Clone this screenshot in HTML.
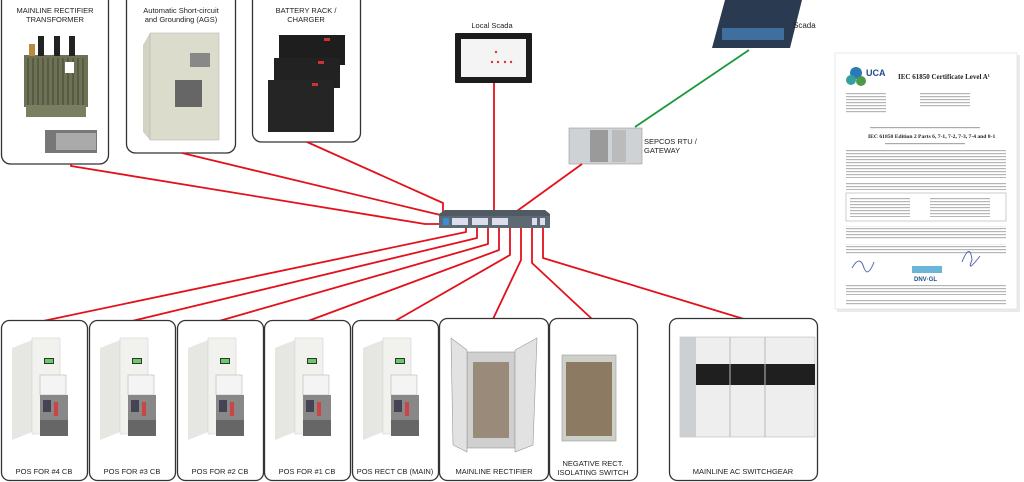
<!DOCTYPE html>
<html><head><meta charset="utf-8"><style>
html,body{margin:0;padding:0;background:#fff;}
svg{display:block;font-family:"Liberation Sans",sans-serif;}
</style></head><body>
<svg width="1024" height="482" viewBox="0 0 1024 482" xmlns="http://www.w3.org/2000/svg">
<defs>
<g id="pos">
  <polygon points="12,28 32,20 32,112 12,120" fill="#e6e6e2"/>
  <rect x="32" y="18" width="28" height="96" fill="#f1f1ee" stroke="#ccc" stroke-width="0.5"/>
  <rect x="44" y="38" width="10" height="6" fill="#333"/><rect x="45" y="39" width="8" height="4" fill="#6c6"/>
  <rect x="40" y="55" width="26" height="20" fill="#f4f4f4" stroke="#aaa" stroke-width="0.5"/>
  <rect x="40" y="75" width="28" height="30" fill="#888"/>
  <rect x="43" y="80" width="8" height="12" fill="#445"/><rect x="54" y="82" width="4" height="14" fill="#c44"/>
  <rect x="40" y="100" width="28" height="16" fill="#666"/>
</g>
<pattern id="txt" width="160" height="3" patternUnits="userSpaceOnUse">
  <rect x="0" y="0" width="160" height="1.2" fill="#b5b5b5"/>
</pattern>
</defs>

<!-- Top boxes -->
<rect x="1.5" y="-8" width="107" height="172" rx="9" fill="#fff" stroke="#333" stroke-width="1.3"/>
<rect x="126.5" y="-8" width="109" height="161" rx="9" fill="#fff" stroke="#333" stroke-width="1.3"/>
<rect x="252.5" y="-8" width="108" height="150" rx="9" fill="#fff" stroke="#333" stroke-width="1.3"/>
<g font-size="7.5" fill="#222" text-anchor="middle">
<text x="55" y="13">MAINLINE RECTIFIER</text><text x="55" y="22">TRANSFORMER</text>
<text x="181" y="13">Automatic Short-circuit</text><text x="181" y="22">and Grounding (AGS)</text>
<text x="306" y="13">BATTERY RACK /</text><text x="306" y="22">CHARGER</text>
<text x="492" y="28">Local Scada</text>
</g>
<!-- transformer -->
<rect x="24" y="55" width="64" height="52" fill="#6d7255"/>
<g stroke="#4a4e38" stroke-width="1.2"><line x1="28" y1="58" x2="28" y2="105"/><line x1="33" y1="58" x2="33" y2="105"/><line x1="38" y1="58" x2="38" y2="105"/><line x1="43" y1="58" x2="43" y2="105"/><line x1="48" y1="58" x2="48" y2="105"/><line x1="53" y1="58" x2="53" y2="105"/><line x1="58" y1="58" x2="58" y2="105"/><line x1="63" y1="58" x2="63" y2="105"/><line x1="68" y1="58" x2="68" y2="105"/><line x1="73" y1="58" x2="73" y2="105"/><line x1="78" y1="58" x2="78" y2="105"/><line x1="83" y1="58" x2="83" y2="105"/></g>
<rect x="26" y="105" width="60" height="12" fill="#7a7f62"/>
<rect x="38" y="36" width="6" height="20" fill="#222"/><rect x="54" y="36" width="6" height="20" fill="#222"/><rect x="69" y="36" width="6" height="20" fill="#222"/>
<rect x="29" y="44" width="6" height="12" fill="#b84"/><rect x="65" y="62" width="9" height="11" fill="#fff"/>
<rect x="45" y="130" width="52" height="23" fill="#777"/><rect x="56" y="133" width="40" height="17" fill="#aaa"/>
<!-- AGS -->
<polygon points="143,45 150,33 219,33 219,140 150,140 143,132" fill="#d3d3c4"/>
<rect x="150" y="33" width="69" height="107" fill="#dcdccd" stroke="#aaa" stroke-width="0.5"/>
<rect x="190" y="53" width="20" height="14" fill="#888"/><rect x="175" y="80" width="27" height="27" fill="#666"/>
<!-- batteries -->
<rect x="279" y="35" width="66" height="30" fill="#1e1e1e"/>
<rect x="274" y="58" width="66" height="30" fill="#222"/>
<rect x="268" y="80" width="66" height="52" fill="#252525"/>
<rect x="324" y="38" width="6" height="3" fill="#c33"/><rect x="318" y="61" width="6" height="3" fill="#c33"/><rect x="312" y="83" width="6" height="3" fill="#c33"/>
<!-- local scada -->
<rect x="455" y="33" width="77" height="50" fill="#1c1c1c" rx="1"/>
<rect x="461" y="39" width="65" height="38" fill="#f4f4f4"/>
<g fill="#d33"><circle cx="492" cy="62" r="1.2"/><circle cx="498" cy="62" r="1.2"/><circle cx="505" cy="62" r="1.2"/><circle cx="511" cy="62" r="1.2"/><circle cx="496" cy="52" r="1.2"/></g>
<!-- scada image -->
<polygon points="725,0 802,0 790,48 712,48" fill="#2a3a50"/>
<rect x="722" y="28" width="62" height="12" fill="#3f6f9f"/>
<text x="793" y="28" font-size="8" fill="#222">Scada</text>
<!-- SEPCOS -->
<rect x="569" y="128" width="73" height="36" fill="#cfd2d4" stroke="#999" stroke-width="0.6"/>
<rect x="590" y="130" width="18" height="32" fill="#9a9a9a"/><rect x="612" y="130" width="14" height="32" fill="#bbb"/>
<text x="644" y="144" font-size="7.5" fill="#222">SEPCOS RTU /</text>
<text x="644" y="153" font-size="7.5" fill="#222">GATEWAY</text>

<!-- connectors -->
<g stroke="#e3111b" stroke-width="1.8" fill="none" stroke-linejoin="round">
<polyline points="71,164 71,166 425,224 445,224"/>
<polyline points="182,153 432,213 445,216"/>
<polyline points="307,142 443,203 443,214"/>
<line x1="494" y1="83" x2="494" y2="213"/>
<line x1="582" y1="164" x2="517" y2="211"/>
<polyline points="466,228 466,232 43,321"/>
<polyline points="477,228 477,238 132,321"/>
<polyline points="488,228 488,244 219,321"/>
<polyline points="499,228 499,250 308,321"/>
<polyline points="510,228 510,255 395,321"/>
<polyline points="521,228 521,260 493,319"/>
<polyline points="532,228 532,263 592,319"/>
<polyline points="543,228 543,258 744,319"/>
</g>
<line x1="635" y1="127" x2="749" y2="50" stroke="#1a9a3a" stroke-width="1.8"/>
<!-- switch -->
<polygon points="445,210 545,210 550,214 550,228 439,228 439,214" fill="#4f5a63"/>
<rect x="439" y="216" width="111" height="12" fill="#5d6a73"/>
<rect x="443" y="218" width="6" height="7" fill="#3a8ed6"/>
<g fill="#dde"><rect x="452" y="218" width="16" height="7"/><rect x="472" y="218" width="16" height="7"/><rect x="492" y="218" width="16" height="7"/><rect x="532" y="218" width="5" height="7"/><rect x="540" y="218" width="5" height="7"/></g>

<!-- bottom boxes -->
<g fill="#fff" stroke="#333" stroke-width="1.3">
<rect x="1.5" y="320.5" width="86" height="160" rx="8"/>
<rect x="89.5" y="320.5" width="86" height="160" rx="8"/>
<rect x="177.5" y="320.5" width="86" height="160" rx="8"/>
<rect x="264.5" y="320.5" width="86" height="160" rx="8"/>
<rect x="352.5" y="320.5" width="86" height="160" rx="8"/>
<rect x="439.5" y="318.5" width="109" height="162" rx="8"/>
<rect x="549.5" y="318.5" width="88" height="162" rx="8"/>
<rect x="669.5" y="318.5" width="148" height="162" rx="8"/>
</g>
<use href="#pos" x="0" y="320"/>
<use href="#pos" x="88" y="320"/>
<use href="#pos" x="176" y="320"/>
<use href="#pos" x="263" y="320"/>
<use href="#pos" x="351" y="320"/>
<!-- mainline rectifier -->
<rect x="467" y="352" width="48" height="96" fill="#cfcfcf" stroke="#999" stroke-width="0.6"/>
<rect x="473" y="362" width="36" height="76" fill="#9a8a7a"/>
<polygon points="451,338 467,350 467,452 453,445" fill="#e2e2e2" stroke="#999" stroke-width="0.6"/>
<polygon points="537,338 515,350 515,452 533,445" fill="#e2e2e2" stroke="#999" stroke-width="0.6"/>
<!-- negative switch -->
<rect x="562" y="355" width="54" height="86" fill="#cdd0c8" stroke="#999" stroke-width="0.6"/>
<rect x="566" y="362" width="46" height="74" fill="#8d7a62"/>
<!-- AC switchgear -->
<rect x="680" y="337" width="135" height="100" fill="#eeeeee" stroke="#bbb" stroke-width="0.6"/>
<rect x="680" y="337" width="16" height="100" fill="#cdd0d3"/>
<rect x="696" y="364" width="119" height="21" fill="#1f1f1f"/>
<line x1="730" y1="337" x2="730" y2="437" stroke="#bbb"/><line x1="765" y1="337" x2="765" y2="437" stroke="#bbb"/>

<g font-size="7.5" fill="#222" text-anchor="middle">
<text x="44" y="474">POS FOR #4 CB</text>
<text x="132" y="474">POS FOR #3 CB</text>
<text x="220" y="474">POS FOR #2 CB</text>
<text x="307" y="474">POS FOR #1 CB</text>
<text x="395" y="474">POS RECT CB (MAIN)</text>
<text x="494" y="474">MAINLINE RECTIFIER</text>
<text x="593" y="466">NEGATIVE RECT.</text>
<text x="593" y="475">ISOLATING SWITCH</text>
<text x="743" y="474">MAINLINE AC SWITCHGEAR</text>
</g>

<!-- certificate -->
<rect x="837" y="55" width="183" height="257" fill="#bbb" opacity="0.3"/>
<rect x="835" y="53" width="182" height="256" fill="#fff" stroke="#ddd" stroke-width="0.6"/>
<circle cx="856" cy="73" r="6" fill="#2a7ab8"/><circle cx="851" cy="80" r="5" fill="#34a0a0"/><circle cx="861" cy="81" r="5" fill="#4a9a4a"/>
<text x="866" y="76" font-size="9" fill="#1d4e8a" font-weight="bold">UCA</text>
<text x="898" y="79" font-size="7" fill="#222" font-weight="bold" font-family="Liberation Serif, serif">IEC 61850 Certificate Level A¹</text>
<text x="868" y="138" font-size="5.6" fill="#222" font-weight="bold" font-family="Liberation Serif, serif">IEC 61850 Edition 2 Parts 6, 7-1, 7-2, 7-3, 7-4 and 8-1</text>
<rect x="846" y="93" width="40" height="20" fill="url(#txt)"/><rect x="920" y="93" width="50" height="15" fill="url(#txt)"/>
<rect x="870" y="127" width="110" height="1.2" fill="#aaa"/><rect x="885" y="143" width="80" height="1.2" fill="#aaa"/>
<rect x="846" y="150" width="160" height="28" fill="url(#txt)"/>
<rect x="846" y="183" width="160" height="7" fill="url(#txt)"/>
<rect x="846" y="193" width="160" height="28" fill="none" stroke="#aaa" stroke-width="0.6"/>
<rect x="850" y="197" width="60" height="20" fill="url(#txt)"/><rect x="930" y="197" width="60" height="20" fill="url(#txt)"/>
<rect x="846" y="226" width="160" height="14" fill="url(#txt)"/>
<rect x="846" y="244" width="160" height="10" fill="url(#txt)"/>
<path d="M852 268 q8 -14 12 0 q4 10 10 -6" stroke="#5a6ab0" fill="none" stroke-width="1"/>
<path d="M962 262 q8 -20 10 -2 q-6 14 8 -4" stroke="#5a6ab0" fill="none" stroke-width="1"/>
<rect x="912" y="266" width="30" height="7" fill="#6bb5d8"/>
<text x="914" y="281" font-size="6" fill="#1d4e8a" font-weight="bold">DNV·GL</text>
<rect x="846" y="285" width="160" height="10" fill="url(#txt)"/>
<rect x="846" y="300" width="160" height="5" fill="url(#txt)"/>
</svg>
</body></html>
